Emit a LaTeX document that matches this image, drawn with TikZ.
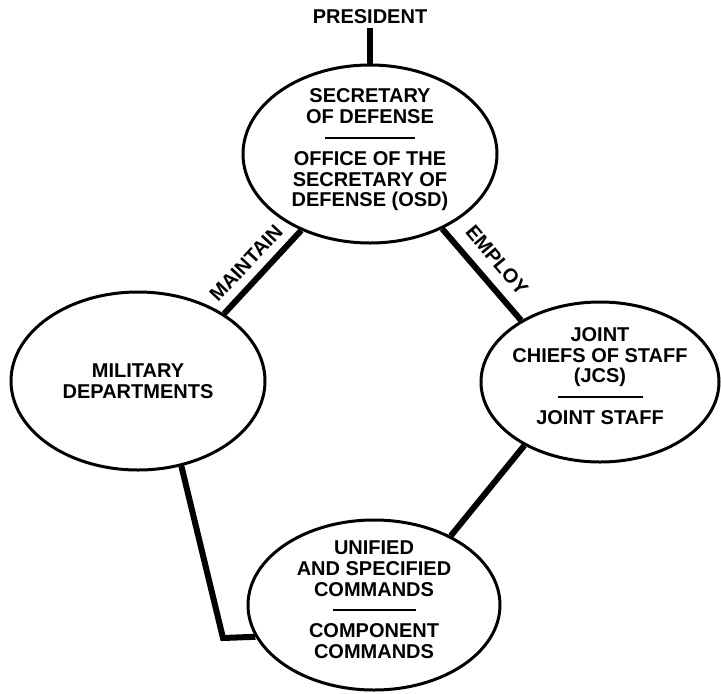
\documentclass[tikz,border=0pt]{standalone}
\usepackage{fontspec}
\setmainfont{Liberation Sans}
\usetikzlibrary{shapes.geometric}
\begin{document}
\begin{tikzpicture}[x=1pt,y=-1pt,
  oval/.style 2 args={draw, ellipse, line width=3pt, inner sep=0pt,
    minimum width=#1, minimum height=#2},
  lbl/.style={font=\bfseries\fontsize{20}{20.8}\selectfont, align=center, inner sep=0pt},
  conn/.style={line width=6pt}
]
\useasboundingbox (0,0) rectangle (721,694);

\node[lbl, inner sep=4pt] (pres) at (370,17) {PRESIDENT};

\node[oval={254pt}{178pt}] (top) at (370,154) {};
\node[oval={254pt}{178pt}] (left) at (138,381) {};
\node[oval={238pt}{160pt}] (right) at (600,382) {};
\node[oval={252pt}{170pt}] (bottom) at (374,605) {};

\node[lbl] (topt) at (370,150) {SECRETARY\\OF DEFENSE\\\rule[6pt]{90pt}{2pt}\\OFFICE OF THE\\SECRETARY OF\\DEFENSE (OSD)};
\node[lbl] (leftt) at (138,381) {MILITARY\\DEPARTMENTS};
\node[lbl] (rightt) at (600,376) {JOINT\\CHIEFS OF STAFF\\(JCS)\\\rule[6pt]{85pt}{2pt}\\JOINT STAFF};
\node[lbl] (bottomt) at (374,600) {UNIFIED\\AND SPECIFIED\\COMMANDS\\\rule[6pt]{83pt}{2pt}\\COMPONENT\\COMMANDS};

\draw[conn] (pres) -- (top);
\draw[conn] (top.228) -- (left.38);
\draw[conn] (top.314) -- (right.142);
\draw[conn] (right.220) -- (bottom.42);
\coordinate (corner) at (223,638);
\draw[conn, line join=miter] (left.297) -- (corner) -- (bottom.195);

\node[lbl, rotate=47] (maint) at (246,263) {MAINTAIN};
\node[lbl, rotate=-50] (empl) at (497,260) {EMPLOY};
\end{tikzpicture}
\end{document}
